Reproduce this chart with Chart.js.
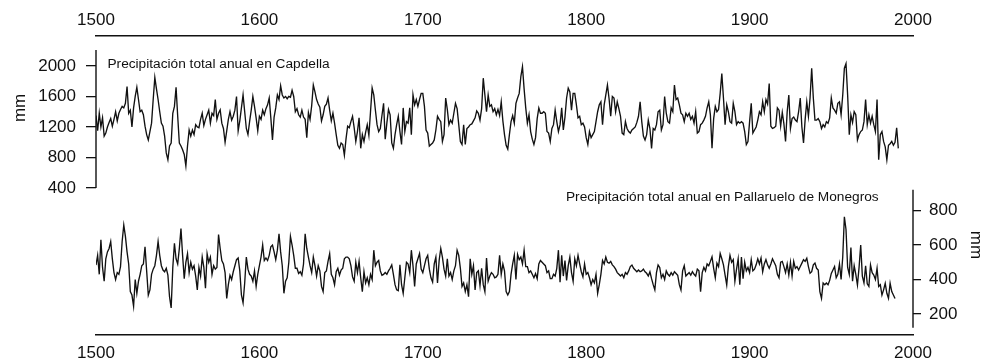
<!DOCTYPE html>
<html>
<head>
<meta charset="utf-8">
<script src="https://cdn.jsdelivr.net/npm/chart.js@4.4.1/dist/chart.umd.min.js"></script>
<style>
  html, body { margin: 0; padding: 0; background: #fff; }
  #wrap { position: relative; width: 983px; height: 362px; }
</style>
</head>
<body>
<div id="wrap"><canvas id="chart" width="983" height="362"></canvas></div>
<script>
// annual precipitation (mm), one value per year from firstYear
const firstYear = 1500;
const yearTicks = [1500, 1600, 1700, 1800, 1900, 2000];
const capdellaTicks = [400, 800, 1200, 1600, 2000];
const monegrosTicks = [200, 400, 600, 800];

const capdellaTitle = 'Precipitación total anual en Capdella';
const monegrosTitle = 'Precipitación total anual en Pallaruelo de Monegros';
const unitLabel = 'mm';

const capdella = [
  1350, 1150, 1380, 1200, 1320, 1080, 1120, 1200, 1260, 1310,
  1210, 1300, 1400, 1280, 1380, 1430, 1470, 1450, 1510, 1730,
  1380, 1420, 1200, 1450, 1600, 1720, 1560, 1400, 1420, 1360,
  1210, 1100, 1030, 1140, 1250, 1560, 1850, 1700, 1560, 1400,
  1250, 1210, 1080, 860, 770, 950, 990, 1380, 1470, 1720,
  1340, 990, 950, 900, 840, 690, 950, 1160, 1080, 1160,
  1100, 1230, 1200, 1190, 1300, 1380, 1220, 1300, 1360, 1420,
  1250, 1380, 1350, 1560, 1300, 1380, 1425, 1250, 1180, 1000,
  1150, 1300, 1400, 1290, 1340, 1420, 1600, 1150, 1280, 1450,
  1620, 1400, 1180, 1100, 1270, 1420, 1600, 1470, 1320, 1150,
  1340, 1300, 1420, 1360, 1440, 1490, 1580, 1320, 1030, 1330,
  1450, 1620, 1560, 1740, 1620, 1580, 1600, 1570, 1600, 1590,
  1680, 1600, 1400, 1440, 1360, 1330, 1420, 1330, 1300, 1060,
  1390, 1300, 1480, 1750, 1660, 1560, 1500, 1460, 1280, 1360,
  1470, 1500, 1580, 1420, 1280, 1380, 1250, 1100, 960, 920,
  990, 970, 830, 1040, 1210, 1190, 1270, 1340, 1190, 1010,
  1140, 1320, 920, 1100, 1010, 1130, 1230, 1090, 1400, 1710,
  1620, 1420, 1230, 1140, 1180, 1350, 1510, 1040, 1250, 1430,
  1360, 990, 920, 1100, 1230, 1340, 1140, 970, 1450, 1140,
  1270, 1250, 1450, 1100, 1620, 1490, 1560, 1470, 1560, 1640,
  1640, 1470, 1160, 1120, 950, 970, 990, 1030, 1160, 1340,
  1300, 1270, 1010, 1100, 1580, 1430, 1230, 1290, 1250, 1380,
  1510, 1440, 1230, 1010, 970, 1230, 970, 1180, 1200, 1230,
  1240, 1280, 1320, 1410, 1380, 1290, 1440, 1840, 1620, 1400,
  1620, 1470, 1490, 1400, 1440, 1360, 1430, 1350, 1530, 1280,
  1100, 960, 910, 1100, 1270, 1350, 1250, 1510, 1580, 1640,
  1860, 1990, 1700, 1450, 1250, 1360, 1140, 1040, 970, 1060,
  1310, 1450, 1380, 1380, 1400, 1380, 1140, 1120, 1010, 1180,
  1230, 1420, 1270, 1140, 1230, 1450, 1160, 1330, 1580, 1710,
  1660, 1420, 1640, 1640, 1490, 1320, 1340, 1230, 1250, 1200,
  1060, 970, 1140, 1060, 1100, 1140, 1270, 1400, 1490, 1530,
  1230, 1490, 1620, 1750, 1570, 1340, 1600, 1580, 1400, 1530,
  1440, 1340, 1120, 1100, 1270, 1180, 1140, 1120, 1160, 1180,
  1200, 1260, 1340, 1530, 1270, 1080, 1030, 1100, 1290, 1180,
  920, 1180, 1160, 1230, 1400, 1420, 1160, 1230, 1600, 1380,
  1270, 1250, 1450, 1400, 1750, 1560, 1580, 1490, 1380, 1360,
  1270, 1380, 1340, 1380, 1300, 1340, 1250, 1400, 1120, 1140,
  1230, 1250, 1290, 1340, 1450, 1530, 1360, 920, 1310, 1470,
  1400, 1430, 1640, 1900, 1580, 1230, 1490, 1400, 1270, 1250,
  1510, 1400, 1230, 1270, 1250, 1270, 1250, 1140, 970, 1010,
  1270, 1510, 1120, 1160, 1200, 1290, 1400, 1360, 1530, 1400,
  1560, 1500, 1770, 1210, 1180, 1190, 1210, 1450, 1420, 1210,
  1390, 1240, 1010, 1400, 1620, 1180, 1310, 1330, 1290, 1270,
  1400, 1580, 1200, 990, 1300, 1530, 1340, 1580, 1970, 1580,
  1290, 1290, 1310, 1270, 1180, 1230, 1200, 1270, 1250, 1320,
  1580, 1450, 1420, 1380, 1510, 1530, 1360, 1620, 1970, 2030,
  1620, 1100, 1360, 1260, 1400, 1360, 1030, 1100, 1140, 1160,
  1270, 1560, 1230, 1360, 1250, 1340, 1230, 1140, 1560, 770,
  1100, 1140, 1010, 940, 770, 960, 980, 1010, 960, 1000,
  1190, 920
];

const monegros = [
  484, 540, 430, 630, 470, 390, 520, 560, 580, 620,
  520, 440, 400, 440, 430, 475, 620, 716, 650, 560,
  490, 330, 310, 245, 400, 320, 390, 430, 480, 490,
  590, 450, 310, 340, 430, 460, 480, 540, 620, 540,
  480, 455, 445, 465, 425, 300, 235, 470, 610, 520,
  490, 580, 695, 540, 405, 500, 550, 440, 500, 460,
  480, 420, 340, 470, 420, 530, 470, 350, 550, 500,
  530, 430, 480, 460, 470, 660, 580, 510, 490, 440,
  290, 370, 425, 400, 445, 480, 515, 525, 450, 310,
  265, 380, 530, 460, 430, 420, 390, 450, 360, 430,
  480, 530, 600, 510, 525, 510, 540, 590, 600, 560,
  515, 570, 665, 560, 480, 320, 390, 410, 500, 650,
  600, 540, 465, 465, 435, 445, 425, 490, 665, 580,
  530, 480, 440, 530, 480, 420, 480, 450, 360, 330,
  440, 450, 505, 550, 430, 410, 370, 445, 465, 425,
  455, 465, 520, 530, 530, 520, 480, 415, 390, 500,
  440, 505, 410, 330, 445, 380, 410, 370, 430, 400,
  570, 480, 500, 510, 450, 425, 430, 440, 430, 450,
  465, 485, 430, 370, 340, 335, 485, 370, 320, 410,
  500, 490, 440, 570, 480, 360, 490, 520, 550, 460,
  440, 480, 520, 540, 460, 410, 385, 490, 530, 380,
  510, 580, 530, 460, 420, 520, 420, 440, 400, 450,
  480, 570, 540, 465, 360, 380, 330, 370, 300, 520,
  430, 480, 340, 440, 450, 365, 465, 370, 330, 525,
  390, 420, 440, 430, 410, 415, 430, 540, 430, 490,
  450, 330, 310, 330, 430, 490, 540, 400, 545, 515,
  530, 490, 570, 475, 475, 440, 450, 430, 410, 435,
  405, 490, 510, 500, 490, 480, 440, 450, 405, 405,
  430, 420, 465, 570, 385, 540, 420, 510, 395, 480,
  530, 440, 390, 520, 480, 540, 490, 445, 415, 490,
  430, 440, 410, 370, 400, 380, 430, 320, 370, 430,
  510, 490, 530, 500, 495, 505, 485, 475, 460, 440,
  430, 420, 430, 410, 440, 430, 450, 475, 484, 465,
  455, 445, 455, 445, 450, 460, 445, 436, 420, 445,
  405, 370, 340, 440, 484, 470, 410, 430, 400, 450,
  430, 420, 440, 425, 445, 435, 425, 370, 339, 450,
  480, 420, 430, 440, 425, 445, 430, 420, 460, 450,
  330, 440, 470, 450, 490, 480, 505, 532, 465, 410,
  495, 475, 551, 520, 485, 425, 368, 475, 540, 500,
  515, 390, 460, 520, 370, 530, 405, 500, 450, 470,
  440, 515, 450, 460, 485, 520, 490, 525, 445, 490,
  515, 485, 465, 490, 520, 500, 480, 430, 410, 500,
  505, 475, 440, 490, 426, 500, 420, 505, 465, 475,
  455, 475, 495, 515, 505, 523, 475, 436, 445, 485,
  495, 465, 455, 330, 291, 380, 370, 380, 370, 395,
  435, 455, 475, 410, 430, 490, 400, 530, 764, 690,
  470, 430, 585, 390, 480, 430, 368, 470, 600, 420,
  380, 480, 375, 360, 484, 440, 426, 400, 465, 360,
  370, 310, 340, 378, 320, 291, 378, 330, 310, 290
];

const toPoints = (vals) => vals.map((v, i) => ({ x: firstYear + i, y: v }));

const ink = '#111';
const tickFont = { family: '"Liberation Sans", Arial, sans-serif', size: 17 };

// panel axis lines only span part of the shared chart height
const panelAxes = {
  id: 'panelAxes',
  afterDraw(chart) {
    const { ctx, chartArea, scales } = chart;
    const yT = scales.yTop, yB = scales.yBottom, x = scales.x;
    ctx.save();
    ctx.strokeStyle = ink;
    ctx.lineWidth = 1.4;
    ctx.beginPath();
    ctx.moveTo(chartArea.left, yT.getPixelForValue(400));
    ctx.lineTo(chartArea.left, yT.getPixelForValue(2210));
    ctx.moveTo(chartArea.right, yB.getPixelForValue(120));
    ctx.lineTo(chartArea.right, yB.getPixelForValue(920));
    ctx.stroke();

    ctx.fillStyle = ink;
    ctx.font = '13.7px "Liberation Sans", Arial, sans-serif';
    ctx.textBaseline = 'middle';
    ctx.textAlign = 'left';
    ctx.fillText(capdellaTitle, x.getPixelForValue(1507), yT.getPixelForValue(2020));
    ctx.textAlign = 'right';
    ctx.fillText(monegrosTitle, x.getPixelForValue(1979), yB.getPixelForValue(875));

    ctx.font = '17px "Liberation Sans", Arial, sans-serif';
    ctx.textAlign = 'center';
    ctx.save();
    ctx.translate(20, yT.getPixelForValue(1450));
    ctx.rotate(-Math.PI / 2);
    ctx.fillText(unitLabel, 0, 0);
    ctx.restore();
    ctx.save();
    ctx.translate(976, yB.getPixelForValue(600));
    ctx.rotate(Math.PI / 2);
    ctx.fillText(unitLabel, 0, 0);
    ctx.restore();
    ctx.restore();
  }
};

const yearAxis = (position, height, pad) => ({
  type: 'linear',
  position,
  min: 1500,
  max: 2000,
  afterBuildTicks: (s) => { s.ticks = yearTicks.map(v => ({ value: v })); },
  afterFit: (s) => { s.height = height; },
  grid: { display: false, drawTicks: false },
  border: { display: true, color: ink, width: 1.4 },
  ticks: { color: ink, font: tickFont, padding: pad, maxRotation: 0, callback: v => String(v) }
});

new Chart(document.getElementById('chart'), {
  type: 'line',
  data: {
    datasets: [
      {
        label: capdellaTitle,
        data: toPoints(capdella),
        xAxisID: 'x',
        yAxisID: 'yTop',
        borderColor: ink,
        borderWidth: 1.35,
        pointRadius: 0,
        tension: 0,
        fill: false
      },
      {
        label: monegrosTitle,
        data: toPoints(monegros),
        xAxisID: 'x',
        yAxisID: 'yBottom',
        borderColor: ink,
        borderWidth: 1.35,
        pointRadius: 0,
        tension: 0,
        fill: false
      }
    ]
  },
  options: {
    responsive: false,
    animation: false,
    devicePixelRatio: 1,
    layout: { padding: 0 },
    plugins: { legend: { display: false }, tooltip: { enabled: false } },
    scales: {
      x: yearAxis('bottom', 27, 8),
      xTop: yearAxis('top', 36, 5),
      yTop: {
        type: 'linear',
        position: 'left',
        min: -1528,
        max: 2393,
        afterBuildTicks: (s) => { s.ticks = capdellaTicks.map(v => ({ value: v })); },
        afterFit: (s) => { s.width = 96; },
        grid: { drawOnChartArea: false, drawTicks: true, tickLength: 10, color: ink, lineWidth: 1.3 },
        border: { display: false },
        ticks: { color: ink, font: tickFont, padding: 10, callback: v => String(v) }
      },
      yBottom: {
        type: 'linear',
        position: 'right',
        min: 78.3,
        max: 1811.6,
        afterBuildTicks: (s) => { s.ticks = monegrosTicks.map(v => ({ value: v })); },
        afterFit: (s) => { s.width = 70; },
        grid: { drawOnChartArea: false, drawTicks: true, tickLength: 8, color: ink, lineWidth: 1.3 },
        border: { display: false },
        ticks: { color: ink, font: tickFont, padding: 8, callback: v => String(v) }
      }
    }
  },
  plugins: [panelAxes]
});
</script>
</body>
</html>
